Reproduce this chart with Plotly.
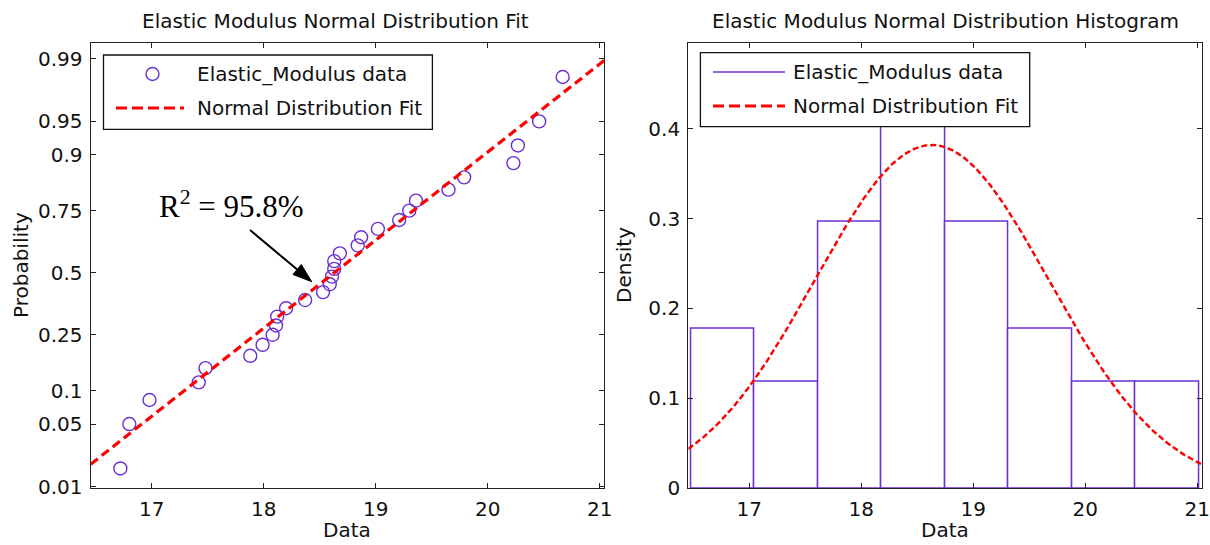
import numpy as np
import plotly.graph_objects as go
from statistics import NormalDist

# ---------------- data ----------------
elastic_modulus = [16.72, 16.80, 16.98, 17.42, 17.48, 17.88, 17.99, 18.08, 18.11, 18.12,
                   18.20, 18.37, 18.53, 18.59, 18.61, 18.63, 18.63, 18.68, 18.84, 18.87,
                   19.02, 19.21, 19.30, 19.36, 19.65, 19.79, 20.23, 20.27, 20.46, 20.67]
probabilities = [0.0167, 0.05, 0.0833, 0.1167, 0.15, 0.1833, 0.2167, 0.25, 0.2833, 0.3167,
                 0.35, 0.3833, 0.4167, 0.45, 0.4833, 0.5167, 0.55, 0.5833, 0.6167, 0.65,
                 0.6833, 0.7167, 0.75, 0.7833, 0.8167, 0.85, 0.8833, 0.9167, 0.95, 0.9833]
prob_ticks = [0.01, 0.05, 0.1, 0.25, 0.5, 0.75, 0.9, 0.95, 0.99]
prob_tick_labels = ["0.01", "0.05", "0.1", "0.25", "0.5", "0.75", "0.9", "0.95", "0.99"]
x_ticks = [17, 18, 19, 20, 21]
x_tick_labels = ["17", "18", "19", "20", "21"]
density_ticks = [0, 0.1, 0.2, 0.3, 0.4]
density_tick_labels = ["0", "0.1", "0.2", "0.3", "0.4"]
hist_edges = [16.48, 17.047, 17.614, 18.181, 18.748, 19.315, 19.882, 20.449, 21.016]
hist_density = [0.177, 0.118, 0.296, 0.473, 0.296, 0.177, 0.118, 0.118]
fit_mu = 18.63
fit_sigma = 1.045
series_names = ["Elastic_Modulus data", "Normal Distribution Fit"]
titles = ["Elastic Modulus Normal Distribution Fit", "Elastic Modulus Normal Distribution Histogram"]
r2_label = "R<sup>2</sup> = 95.8%"

# ---------------- styling ----------------
W, H = 1210, 545
PURPLE = "#6a30d2"
RED = "#ff0000"
FONT = "DejaVu Sans"
FS = 20
XRANGE = [16.455, 21.04]


def X(px):
    return px / W


def Y(py):
    return 1 - py / H


nd = NormalDist()
z_points = [nd.inv_cdf(p) for p in probabilities]
z_ticks = [nd.inv_cdf(p) for p in prob_ticks]

fig = go.Figure()

# Left: probability plot
fig.add_trace(go.Scatter(
    x=elastic_modulus, y=z_points, mode="markers", xaxis="x", yaxis="y",
    marker=dict(symbol="circle-open", size=13, color=PURPLE, line=dict(width=1.4, color=PURPLE)),
    showlegend=False, name=series_names[0]))
fit_x = np.array(XRANGE)
fig.add_trace(go.Scatter(
    x=fit_x, y=(fit_x - fit_mu) / fit_sigma, mode="lines", xaxis="x", yaxis="y",
    line=dict(color=RED, width=3.2, dash="9px,5px"), showlegend=False, name=series_names[1]))

# Right: histogram
centers = [(a + b) / 2 for a, b in zip(hist_edges[:-1], hist_edges[1:])]
widths = [b - a for a, b in zip(hist_edges[:-1], hist_edges[1:])]
fig.add_trace(go.Bar(
    x=centers, y=hist_density, width=widths, xaxis="x2", yaxis="y2",
    marker=dict(color="white", line=dict(color=PURPLE, width=1.5)),
    showlegend=False, name=series_names[0]))
pdf_x = np.linspace(XRANGE[0], XRANGE[1], 300)
pdf_y = np.exp(-0.5 * ((pdf_x - fit_mu) / fit_sigma) ** 2) / (fit_sigma * np.sqrt(2 * np.pi))
fig.add_trace(go.Scatter(
    x=pdf_x, y=pdf_y, mode="lines", xaxis="x2", yaxis="y2",
    line=dict(color=RED, width=2.4, dash="6px,3px"), showlegend=False, name=series_names[1]))

axis_common = dict(showline=True, linecolor="#222", linewidth=1.3, mirror="ticks",
                   ticks="inside", ticklen=5, tickcolor="#222", tickwidth=1.2,
                   showgrid=False, zeroline=False, automargin=False,
                   tickfont=dict(family=FONT, size=FS, color="#111"))

fig.update_layout(
    width=W, height=H, margin=dict(l=0, r=0, t=0, b=0, autoexpand=False),
    paper_bgcolor="white", plot_bgcolor="white", showlegend=False, bargap=0,
    barmode="overlay",
    xaxis=dict(domain=[X(90.7), X(604.1)], range=XRANGE, tickvals=x_ticks, ticktext=x_tick_labels,
               anchor="y", ticklabelstandoff=3, **axis_common),
    yaxis=dict(domain=[Y(488.3), Y(42.7)], range=[-2.343, 2.50], tickvals=z_ticks,
               ticktext=prob_tick_labels, anchor="x", ticklabelstandoff=3, **axis_common),
    xaxis2=dict(domain=[X(688.3), X(1201.7)], range=XRANGE, tickvals=x_ticks, ticktext=x_tick_labels,
                anchor="y2", ticklabelstandoff=3, **axis_common),
    yaxis2=dict(domain=[Y(488.3), Y(42.7)], range=[0, 0.4955], tickvals=density_ticks,
                ticktext=density_tick_labels, anchor="x2", ticklabelstandoff=3, **axis_common),
)

ann = []
txtfont = dict(family=FONT, size=FS, color="#111")
# Titles
ann.append(dict(text=titles[0], x=X(335), y=Y(21), xref="paper", yref="paper",
                xanchor="center", yanchor="middle", showarrow=False, font=txtfont))
ann.append(dict(text=titles[1], x=X(945.5), y=Y(21), xref="paper", yref="paper",
                xanchor="center", yanchor="middle", showarrow=False, font=txtfont))
# Axis titles
ann.append(dict(text="Data", x=X(347), y=Y(530), xref="paper", yref="paper",
                xanchor="center", yanchor="middle", showarrow=False, font=txtfont))
ann.append(dict(text="Data", x=X(945), y=Y(530), xref="paper", yref="paper",
                xanchor="center", yanchor="middle", showarrow=False, font=txtfont))
ann.append(dict(text="Probability", x=X(21), y=Y(265), xref="paper", yref="paper", textangle=-90,
                xanchor="center", yanchor="middle", showarrow=False, font=txtfont))
ann.append(dict(text="Density", x=X(624), y=Y(265), xref="paper", yref="paper", textangle=-90,
                xanchor="center", yanchor="middle", showarrow=False, font=txtfont))

# R^2 annotation
ann.append(dict(text=r2_label, x=X(157), y=Y(204), xref="paper", yref="paper",
                xanchor="left", yanchor="middle", showarrow=False,
                font=dict(family="Liberation Serif", size=31, color="black")))

shapes = []
# Arrow (shaft + filled head) pointing at the fit line
tail = np.array([250.0, 230.0])
tip = np.array([311.7, 281.7])
u = (tip - tail) / np.linalg.norm(tip - tail)
perp = np.array([-u[1], u[0]])
base = tip - 19 * u
c1 = base + 6.5 * perp
c2 = base - 6.5 * perp
shapes.append(dict(type="line", xref="paper", yref="paper", x0=X(tail[0]), y0=Y(tail[1]),
                   x1=X(base[0] + 2 * u[0]), y1=Y(base[1] + 2 * u[1]),
                   line=dict(color="black", width=2)))
shapes.append(dict(type="path", xref="paper", yref="paper",
                   path=f"M {X(tip[0])},{Y(tip[1])} L {X(c1[0])},{Y(c1[1])} L {X(c2[0])},{Y(c2[1])} Z",
                   fillcolor="black", line=dict(color="black", width=1)))

# Legend 1
shapes.append(dict(type="rect", xref="paper", yref="paper", x0=X(103.5), x1=X(432.4),
                   y0=Y(129.3), y1=Y(55), fillcolor="white", line=dict(color="#111", width=1.3)))
shapes.append(dict(type="circle", xref="paper", yref="paper", x0=X(152.5 - 6.5), x1=X(152.5 + 6.5),
                   y0=Y(74 + 6.5), y1=Y(74 - 6.5), line=dict(color=PURPLE, width=1.4)))
shapes.append(dict(type="line", xref="paper", yref="paper", x0=X(116), x1=X(184),
                   y0=Y(108), y1=Y(108), line=dict(color=RED, width=3.2, dash="11px,5px")))
ann.append(dict(text=series_names[0], x=X(195), y=Y(74), xref="paper", yref="paper",
                xanchor="left", yanchor="middle", showarrow=False, font=txtfont))
ann.append(dict(text=series_names[1], x=X(195), y=Y(108), xref="paper", yref="paper",
                xanchor="left", yanchor="middle", showarrow=False, font=txtfont))
# Legend 2
shapes.append(dict(type="rect", xref="paper", yref="paper", x0=X(700.4), x1=X(1029.7),
                   y0=Y(126.7), y1=Y(52.7), fillcolor="white", line=dict(color="#111", width=1.3)))
shapes.append(dict(type="line", xref="paper", yref="paper", x0=X(713), x1=X(785),
                   y0=Y(72), y1=Y(72), line=dict(color=PURPLE, width=1.5)))
shapes.append(dict(type="line", xref="paper", yref="paper", x0=X(713), x1=X(785),
                   y0=Y(106), y1=Y(106), line=dict(color=RED, width=3.2, dash="11px,5px")))
ann.append(dict(text=series_names[0], x=X(791), y=Y(72), xref="paper", yref="paper",
                xanchor="left", yanchor="middle", showarrow=False, font=txtfont))
ann.append(dict(text=series_names[1], x=X(791), y=Y(106), xref="paper", yref="paper",
                xanchor="left", yanchor="middle", showarrow=False, font=txtfont))

fig.update_layout(annotations=ann, shapes=shapes)
fig.write_html(
    "out.html",
    config={"displayModeBar": False},
    post_script=("document.documentElement.style.margin='0px';"
                 "document.body.style.margin='0px';"
                 "document.documentElement.style.overflow='hidden';"
                 "document.body.style.overflow='hidden';"),
)
